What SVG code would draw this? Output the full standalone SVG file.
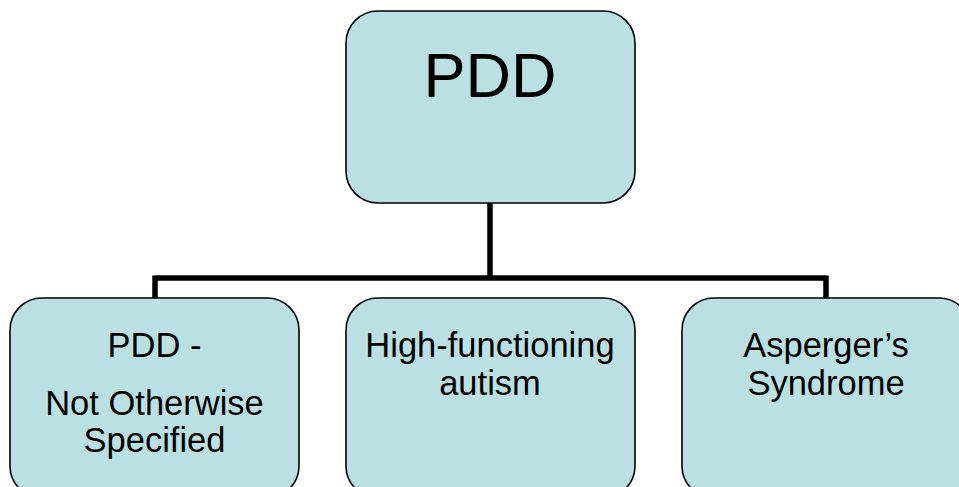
<svg xmlns="http://www.w3.org/2000/svg" width="959" height="487" viewBox="0 0 959 487">
<style>
.box{fill:#BAE0E3;stroke:#000;stroke-width:1.6}
.t{font-family:"Liberation Sans",Arial,sans-serif;fill:#000;text-anchor:middle}
.s{font-size:34.5px}
.conn{fill:none;stroke:#000;stroke-width:5.5;stroke-linejoin:miter}
</style>
<rect width="959" height="487" fill="#fff"/>
<g id="connectors">
<path class="conn" d="M490 203 V278 M155 278 H826 M155 275.5 V298 M826 275.5 V298"/>
</g>
<g id="pdd">
<rect class="box" x="346" y="11" width="289" height="192" rx="32"/>
<text class="t" x="490" y="97" font-size="63">PDD</text>
</g>
<g id="pdd-nos">
<rect class="box" x="10" y="298" width="289" height="200" rx="32"/>
<text class="t s" x="154.5" y="357">PDD -</text>
<text class="t s" x="154.5" y="415">Not Otherwise</text>
<text class="t s" x="154.5" y="452">Specified</text>
</g>
<g id="hfa">
<rect class="box" x="346" y="298" width="289" height="200" rx="32"/>
<text class="t s" x="490" y="357">High-functioning</text>
<text class="t s" x="490" y="395">autism</text>
</g>
<g id="asperger">
<rect class="box" x="682" y="298" width="289" height="200" rx="32"/>
<text class="t s" x="826" y="357">Asperger’s</text>
<text class="t s" x="826" y="395">Syndrome</text>
</g>
</svg>
